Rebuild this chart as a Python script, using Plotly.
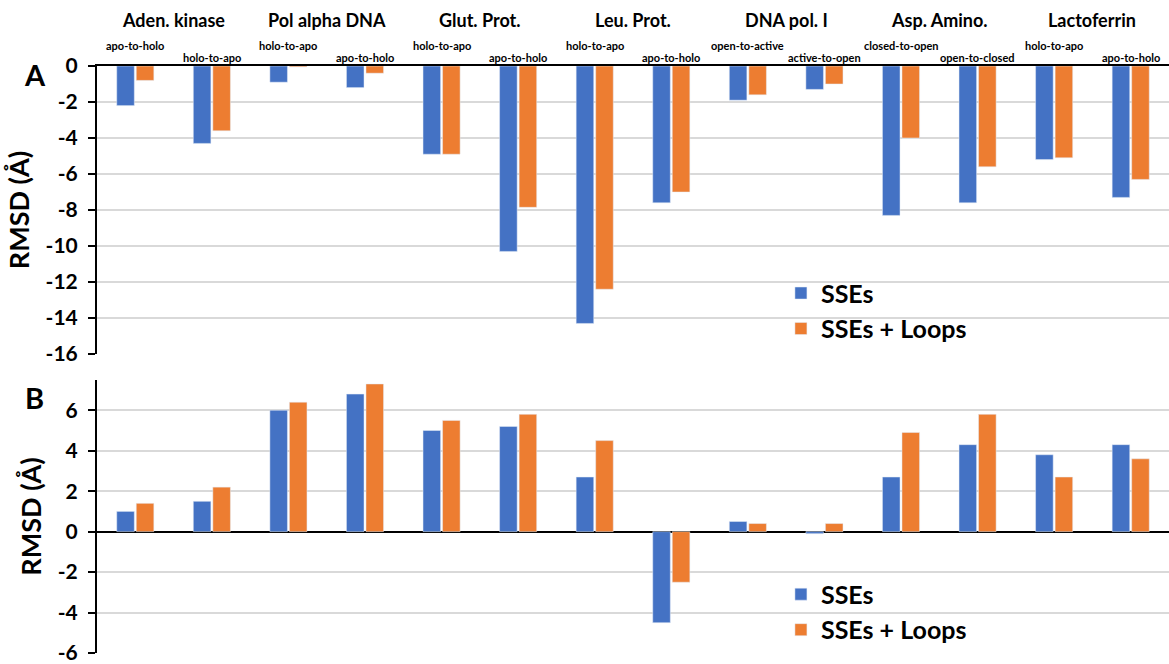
import plotly.graph_objects as go

# Proteins (one per pair of transitions) and the transitions, in plotting order
proteins = ["Aden. kinase", "Pol alpha DNA", "Glut. Prot.", "Leu. Prot.",
            "DNA pol. I", "Asp. Amino.", "Lactoferrin"]
transitions = ["apo-to-holo", "holo-to-apo", "holo-to-apo", "apo-to-holo",
               "holo-to-apo", "apo-to-holo", "holo-to-apo", "apo-to-holo",
               "open-to-active", "active-to-open", "closed-to-open", "open-to-closed",
               "holo-to-apo", "apo-to-holo"]

# Panel A: RMSD change (Å)
a_sses = [-2.2, -4.3, -0.9, -1.2, -4.9, -10.3, -14.3, -7.6, -1.9, -1.3, -8.3, -7.6, -5.2, -7.3]
a_loops = [-0.8, -3.6, -0.05, -0.4, -4.9, -7.85, -12.4, -7.0, -1.6, -1.0, -4.0, -5.6, -5.1, -6.3]

# Panel B: RMSD change (Å)
b_sses = [1.0, 1.5, 6.0, 6.8, 5.0, 5.2, 2.7, -4.5, 0.5, -0.1, 2.7, 4.3, 3.8, 4.3]
b_loops = [1.4, 2.2, 6.4, 7.3, 5.5, 5.8, 4.5, -2.5, 0.4, 0.4, 4.9, 5.8, 2.7, 3.6]

a_ticks = [0, -2, -4, -6, -8, -10, -12, -14, -16]
b_ticks = [6, 4, 2, 0, -2, -4, -6]

BLUE = "#4472C4"
ORANGE = "#ED7D31"
FONT = "Lato"

keys = [f"{proteins[i // 2]}: {t}" for i, t in enumerate(transitions)]

fig = go.Figure()
fig.add_trace(go.Bar(x=keys, y=a_sses, name="SSEs", marker_color=BLUE,
                     xaxis="x", yaxis="y", legend="legend"))
fig.add_trace(go.Bar(x=keys, y=a_loops, name="SSEs + Loops", marker_color=ORANGE,
                     xaxis="x", yaxis="y", legend="legend"))
fig.add_trace(go.Bar(x=keys, y=b_sses, name="SSEs", marker_color=BLUE,
                     xaxis="x2", yaxis="y2", legend="legend2"))
fig.add_trace(go.Bar(x=keys, y=b_loops, name="SSEs + Loops", marker_color=ORANGE,
                     xaxis="x2", yaxis="y2", legend="legend2"))

tick_font = dict(family=FONT, size=21, color="black", weight="bold")
title_font = dict(family=FONT, size=27, color="black", weight="bold")
legend_font = dict(family=FONT, size=25, color="black", weight="bold")
grid = "#d9d9d9"

common_x = dict(type="category", range=[-0.5, 13.5], showticklabels=False,
                ticks="", showgrid=False, zeroline=False, fixedrange=True)
common_y = dict(showgrid=True, gridcolor=grid, gridwidth=1.5, showline=True,
                linecolor="black", linewidth=2, ticks="outside", ticklen=7,
                tickwidth=2, tickcolor="black", tickfont=tick_font,
                ticklabelstandoff=6, ticklabeloverflow="allow",
                title=dict(text="RMSD (Å)", font=title_font, standoff=8))

top_dom = [0.5093, 1.0]
bot_dom = [0.0, 0.4652]

fig.update_layout(
    width=1169, height=664,
    margin=dict(l=97, r=0, t=66, b=9),
    paper_bgcolor="white", plot_bgcolor="white",
    barmode="group", bargap=0.49, bargroupgap=0.1,
    xaxis=dict(common_x, anchor="y", side="top", showline=True,
               linecolor="black", linewidth=2),
    xaxis2=dict(common_x, anchor="y2", showline=False),
    yaxis=dict(common_y, domain=top_dom, anchor="x", range=[-16, 0],
               tickvals=a_ticks, ticktext=[str(v) for v in a_ticks], zeroline=False),
    yaxis2=dict(common_y, domain=bot_dom, anchor="x2", range=[-6, 7.5],
                tickvals=b_ticks, ticktext=[str(v) for v in b_ticks],
                zeroline=True, zerolinecolor="black", zerolinewidth=2),
    legend=dict(x=0.638, y=0.652, xanchor="left", yanchor="top",
                bgcolor="rgba(0,0,0,0)", font=legend_font),
    legend2=dict(x=0.638, y=0.139, xanchor="left", yanchor="top",
                 bgcolor="rgba(0,0,0,0)", font=legend_font),
    showlegend=True,
)

annotations = []
# Protein names above each pair of transitions
for k, p in enumerate(proteins):
    annotations.append(dict(x=2 * k + 0.5, y=1.078, xref="x", yref="paper",
                            text=p, showarrow=False, xanchor="center", yanchor="middle",
                            font=dict(family=FONT, size=18, color="black", weight="bold")))
# Transition labels, staggered in two rows
for i, t in enumerate(transitions):
    annotations.append(dict(x=i, y=1.0357 if i % 2 == 0 else 1.0153, xref="x", yref="paper",
                            text=t, showarrow=False, xanchor="center", yanchor="middle",
                            font=dict(family=FONT, size=11, color="black", weight="bold")))
# Panel letters
for letter, yy in (("A", 0.985), ("B", 0.436)):
    annotations.append(dict(x=-0.058, y=yy, xref="paper", yref="paper", text=letter,
                            showarrow=False, xanchor="center", yanchor="middle",
                            font=dict(family=FONT, size=29, color="black", weight="bold")))
fig.update_layout(annotations=annotations)

fig.write_html("out.html")
